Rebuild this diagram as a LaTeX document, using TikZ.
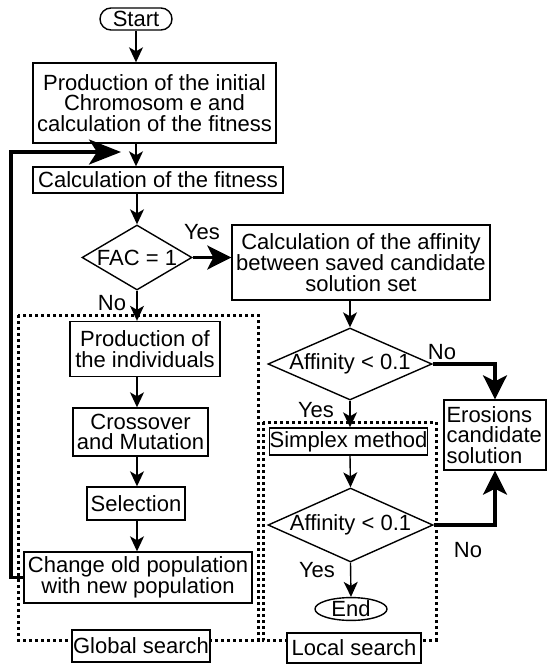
\documentclass[tikz,border=0pt]{standalone}
\usepackage{fontspec}
\setmainfont{Liberation Sans}
\usetikzlibrary{arrows.meta,shapes.geometric,shapes.misc}
\begin{document}
\begin{tikzpicture}[x=1pt,y=-1pt,
  txt/.style={font=\fontsize{22}{20.5}\selectfont},
  box/.style={txt,draw,line width=1.4pt,inner sep=0pt,align=center,fill=white},
  dia/.style={draw,diamond,line width=1.4pt,inner sep=0pt},
  thin/.style={line width=1.4pt,-{Stealth[length=15pt,width=14pt,inset=4pt]}},
  thick/.style={line width=3.2pt,-{Stealth[length=24pt,width=24pt,inset=6pt]}},
  dotbox/.style={line width=3pt,dash pattern=on 3pt off 3pt},
  lab/.style={txt,inner sep=0pt}
]
\useasboundingbox (0,0) rectangle (552,665);

% dotted group frames
\draw[dotbox] (18,315) rectangle (258,640);
\draw[dotbox] (263,422) rectangle (436,640);

% nodes
\node[box,rounded rectangle,minimum width=72pt,minimum height=22pt] (start) at (136,19) {Start};
\node[box,minimum width=243pt,minimum height=80pt] (b1) at (154.5,103) {Production of the initial\\Chromosom e and\\calculation of the fitness};
\node[box,minimum width=250pt,minimum height=26pt] (b2) at (158,180) {Calculation of the fitness};
\node[dia,minimum width=110pt,minimum height=65pt] (d1) at (137,257.5) {};
\node[lab] at (d1.center) {FAC = 1};
\node[box,minimum width=258pt,minimum height=75pt] (b3) at (361,262.5) {Calculation of the affinity\\between saved candidate\\solution set};
\node[box,minimum width=150pt,minimum height=55pt] (prod) at (145,349) {Production of\\the individuals};
\node[box,minimum width=135pt,minimum height=48pt] (cross) at (140.5,432) {Crossover\\and Mutation};
\node[box,minimum width=98pt,minimum height=33pt] (sel) at (136,503.5) {Selection};
\node[box,minimum width=228pt,minimum height=51pt] (chg) at (138,577.5) {Change old population\\with new population};
\node[box,minimum width=138pt,minimum height=32pt] (glob) at (141,646) {Global search};

\node[dia,minimum width=164pt,minimum height=72pt] (d2) at (350,364) {};
\node[lab] at (d2.center) {Affinity < 0.1};
\node[box,align=left,minimum width=102pt,minimum height=70pt,text width=97pt] (eros) at (495,435) {Erosions\\candidate\\solution};
\node[box,minimum width=153pt,minimum height=27pt] (simp) at (348.5,441.5) {Simplex method};
\node[dia,minimum width=165pt,minimum height=74pt] (d3) at (350.5,525) {};
\node[lab] at (d3.center) {Affinity < 0.1};
\node[box,ellipse,minimum width=72pt,minimum height=22pt] (end) at (351,609) {End};
\node[box,minimum width=134pt,minimum height=30pt] (loc) at (354,648) {Local search};

% labels
\node[lab] (y1) at (202,232) {Yes};
\node[lab] (n1) at (112,303) {No};
\node[lab] (n2) at (442,352) {No};
\node[lab] (y2) at (316,410) {Yes};
\node[lab] (n3) at (468,550) {No};
\node[lab] (y3) at (317,570) {Yes};

% connectors
\draw[thin] (start.south) -- (start.south |- b1.north);
\draw[thin] (b1.south -| start) -- (b2.north -| start);
\draw[thin] (b2.south -| d1) -- (d1.north);
\draw[thick] (d1.east) -- (b3.west |- d1.east);
\draw[thin] (d1.south) -- (prod.north -| d1);
\draw[thin] (prod.south -| d1) -- (cross.north -| d1);
\draw[thin] (cross.south -| d1) -- (sel.north -| d1);
\draw[thin] (sel.south -| d1) -- (chg.north -| d1);
\coordinate (fb) at (121,152);
\draw[line width=3.2pt,-{Stealth[length=32pt,width=25pt,inset=8pt]}] (chg.west) -- (11,577.5) |- (fb);

\draw[thin] (b3.south -| d2) -- (d2.north);
\draw[thick] (d2.east) -| (eros.north);
\draw[thin] (d2.south) -- (simp.north -| d2);
\draw[thin] (simp.south -| d2) -- (d3.north);
\draw[thick] (d3.east) -| (eros.south);
\draw[thin] (d3.south) -- (end.north);
\end{tikzpicture}
\end{document}
